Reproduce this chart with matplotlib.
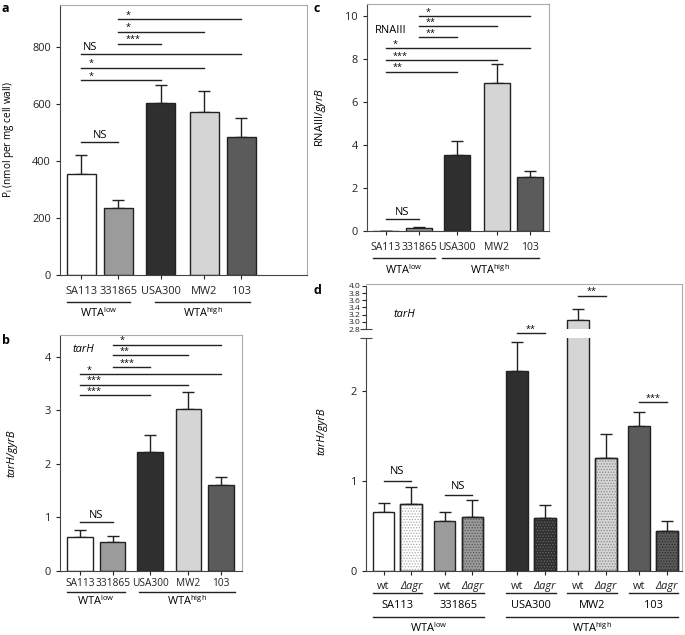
import numpy as np
import matplotlib
matplotlib.use('Agg')
import matplotlib.pyplot as plt
from matplotlib.lines import Line2D

plt.rcParams['font.family'] = ['Open Sans', 'DejaVu Sans']
plt.rcParams['mathtext.fontset'] = 'custom'
plt.rcParams['mathtext.rm'] = 'Open Sans'
plt.rcParams['mathtext.it'] = 'Open Sans:italic'
plt.rcParams['hatch.linewidth'] = 0.6

# strains and colours
strains = ['SA113', '331865', 'USA300', 'MW2', '103']
bar_colors = ['#ffffff', '#9b9b9b', '#2f2f2f', '#d5d5d5', '#5b5b5b']
dot_colors = ['#aaaaaa', '#555555', '#6a6a6a', '#8a8a8a', '#2a2a2a']

# panel a: phosphate per mg cell wall
wta_pi = [355, 235, 605, 573, 485]
wta_pi_err = [65, 27, 60, 72, 67]

# panel b: tarH/gyrB
tarh = [0.64, 0.54, 2.22, 3.03, 1.61]
tarh_err = [0.12, 0.12, 0.32, 0.32, 0.15]

# panel c: RNAIII/gyrB
rna = [0.01, 0.15, 3.55, 6.87, 2.50]
rna_err = [0.0, 0.05, 0.65, 0.90, 0.30]

# panel d: tarH/gyrB, wt vs agr mutant
tarh_wt = [0.65, 0.55, 2.22, 3.04, 1.61]
tarh_wt_err = [0.10, 0.11, 0.32, 0.32, 0.15]
tarh_agr = [0.74, 0.60, 0.59, 1.25, 0.44]
tarh_agr_err = [0.19, 0.19, 0.14, 0.27, 0.11]

# significance brackets (i, j, height, label)
sig_a = [(0, 1, 465, 'NS'), (0, 2, 684, '*'), (0, 3, 727, '*'), (0, 4, 775, 'NS'),
         (1, 2, 811, '***'), (1, 3, 853, '*'), (1, 4, 898, '*')]
sig_b = [(0, 1, 0.91, 'NS'), (0, 2, 3.28, '***'), (0, 3, 3.48, '***'), (0, 4, 3.68, '*'),
         (1, 2, 3.81, '***'), (1, 3, 4.03, '**'), (1, 4, 4.23, '*')]
sig_c = [(0, 1, 0.55, 'NS'), (0, 2, 7.40, '**'), (0, 3, 7.94, '***'), (0, 4, 8.50, '*'),
         (1, 2, 9.00, '**'), (1, 3, 9.52, '**'), (1, 4, 9.97, '*')]
sig_d = [1.00, 0.84, 2.64, 3.73, 1.88]
sig_d_labels = ['NS', 'NS', '**', '**', '***']

W, H = 685, 635
FS = 7.9
SFS = 6.5
fig = plt.figure(figsize=(W / 100, H / 100), dpi=100)


def add_ax(x0, y0, x1, y1):
    return fig.add_axes([x0 / W, 1 - y1 / H, (x1 - x0) / W, (y1 - y0) / H])


def style(ax, pad, xfs=FS):
    for s in ['left', 'bottom']:
        ax.spines[s].set_color('#444444')
    for s in ['top', 'right']:
        ax.spines[s].set_color('#aaaaaa')
    ax.tick_params(axis='y', direction='out', length=3, width=0.8, labelsize=FS, colors='#222222')
    ax.tick_params(axis='x', direction='out', length=3, width=0.8, labelsize=xfs, colors='#222222', pad=pad)


def bars(ax, x, vals, errs, colors, dots=None):
    ax.bar(x, vals, width=0.78, color=colors, edgecolor='#222222', linewidth=1, zorder=2)
    if dots is not None:
        for xi, v, dc in zip(x, vals, dots):
            ax.bar(xi, v, width=0.78, color='none', edgecolor=dc, hatch='......', linewidth=0, zorder=3)
        ax.bar(x, vals, width=0.78, color='none', edgecolor='#222222', linewidth=1, zorder=4)
    ax.errorbar(x, vals, yerr=[np.zeros(len(vals)), errs], fmt='none', ecolor='#222222',
                elinewidth=1, capsize=4, capthick=1, zorder=1)


def brackets(ax, pos, sigs, step):
    for i, j, y, lab in sigs:
        ax.plot([pos[i], pos[j]], [y, y], color='#222222', lw=1, clip_on=False)
        if lab == 'NS':
            if j - i == 1:
                ax.text((pos[i] + pos[j]) / 2, y + step * 0.3, lab, ha='center', va='bottom', fontsize=FS)
            else:
                ax.text(pos[i] + 0.05, y + step * 0.25, lab, ha='left', va='bottom', fontsize=FS)
        else:
            ax.text(pos[i] + 0.2, y - step * 0.1, lab, ha='left', va='bottom', fontsize=SFS)


def under(ax, rect, x1, x2, ypx, label=None, ytxt=None):
    ax0, ay0, ax1, ay1 = rect
    hpx = ay1 - ay0
    y = -(ypx - ay1) / hpx
    ax.plot([x1, x2], [y, y], color='#222222', lw=1, transform=ax.get_xaxis_transform(), clip_on=False)
    if label is not None:
        yt = -(ytxt - ay1) / hpx
        ax.text((x1 + x2) / 2, yt, label, ha='center', va='center', fontsize=FS,
                transform=ax.get_xaxis_transform())


pos = [0, 1, 2.15, 3.33, 4.33]

# ---- panel a
rect_a = (60, 5, 307, 275)
ax = add_ax(*rect_a)
bars(ax, pos, wta_pi, wta_pi_err, bar_colors)
brackets(ax, pos, sig_a, 20)
ax.set_xlim(-0.57, 6.1)
ax.set_ylim(0, 947)
ax.set_yticks([0, 200, 400, 600, 800])
ax.set_xticks(pos)
ax.set_xticklabels(strains)
style(ax, 5)
ax.set_ylabel(r'P$_{\rm i}$ (nmol per mg cell wall)', fontsize=7.2)
ax.yaxis.set_label_coords((16 - 60) / 247, 0.5)
under(ax, rect_a, -0.38, 1.32, 302, r'WTA$^{\rm low}$', 313)
under(ax, rect_a, 2.0, 4.57, 302, r'WTA$^{\rm high}$', 313)

# ---- panel c
rect_c = (367, 4, 549, 231)
ax = add_ax(*rect_c)
bars(ax, pos, rna, rna_err, bar_colors)
brackets(ax, pos, sig_c, 0.22)
ax.text(-0.32, 9.3, 'RNAIII', fontsize=FS, ha='left', va='center')
ax.set_xlim(-0.56, 4.9)
ax.set_ylim(0, 10.55)
ax.set_yticks([0, 2, 4, 6, 8, 10])
ax.set_xticks(pos)
ax.set_xticklabels(strains)
style(ax, 5, 7.5)
ax.set_ylabel(r'RNAIII/$\it{gyrB}$', fontsize=FS)
ax.yaxis.set_label_coords((328 - 367) / 182, 0.5)
under(ax, rect_c, -0.38, 1.48, 258, r'WTA$^{\rm low}$', 270)
under(ax, rect_c, 1.68, 4.6, 258, r'WTA$^{\rm high}$', 270)

# ---- panel b
rect_b = (60, 335, 242, 571)
ax = add_ax(*rect_b)
bars(ax, pos, tarh, tarh_err, bar_colors)
brackets(ax, pos, sig_b, 0.09)
ax.text(-0.25, 4.13, 'tarH', fontsize=FS, style='italic', ha='left', va='center')
ax.set_xlim(-0.62, 4.98)
ax.set_ylim(0, 4.41)
ax.set_yticks([0, 1, 2, 3, 4])
ax.set_xticks(pos)
ax.set_xticklabels(strains)
style(ax, 2, 7.3)
ax.set_ylabel('tarH/gyrB', fontsize=FS, style='italic')
ax.yaxis.set_label_coords((18 - 60) / 182, 0.5)
under(ax, rect_b, -0.4, 1.38, 592, r'WTA$^{\rm low}$', 601)
under(ax, rect_b, 1.82, 4.77, 592, r'WTA$^{\rm high}$', 601)

# ---- panel d (broken axis)
wt_pos = np.array([0, 2.2, 4.8, 7.0, 9.2])
agr_pos = wt_pos + 1
rect_d = (366, 338, 682, 571)
ax = add_ax(*rect_d)
axu = add_ax(366, 284, 682, 329)
axu.patch.set_visible(False)
for a_ in (ax, axu):
    bars(a_, wt_pos, tarh_wt, tarh_wt_err, bar_colors)
    bars(a_, agr_pos, tarh_agr, tarh_agr_err, bar_colors, dot_colors)
    a_.set_xlim(-0.63, 10.74)
ax.set_ylim(0, 2.585)
axu.set_ylim(2.8, 4.05)
for k in range(5):
    a_ = axu if sig_d[k] > 2.8 else ax
    a_.plot([wt_pos[k], agr_pos[k]], [sig_d[k], sig_d[k]], color='#222222', lw=1, clip_on=False)
    fs = FS if sig_d_labels[k] == 'NS' else SFS
    off = 0.04 if sig_d_labels[k] == 'NS' else -0.01
    a_.text((wt_pos[k] + agr_pos[k]) / 2, sig_d[k] + off, sig_d_labels[k], ha='center', va='bottom',
            fontsize=fs, clip_on=False)
axu.text(0.35, 3.2, 'tarH', fontsize=FS, style='italic', ha='left', va='center')

xt = np.ravel(np.column_stack([wt_pos, agr_pos]))
ax.set_xticks(xt)
ax.set_xticklabels(['wt', '\u0394agr'] * 5)
for k, t in enumerate(ax.get_xticklabels()):
    if k % 2 == 1:
        t.set_fontstyle('italic')
ax.set_yticks([0, 1, 2])
style(ax, 4)
ax.spines['top'].set_visible(False)
ax.set_ylabel('tarH/gyrB', fontsize=FS, style='italic')
ax.yaxis.set_label_coords((328 - 366) / 316, 0.6)
ax.plot([-0.63], [2.585], marker='_', ms=8, mew=0.8, color='#444444', clip_on=False)

style(axu, 3)
axu.spines['bottom'].set_visible(False)
axu.set_xticks([])
axu.set_yticks(np.arange(2.8, 4.01, 0.2))
axu.set_yticklabels(['2.8', '3.0', '3.2', '3.4', '3.6', '3.8', '4.0'])
axu.tick_params(axis='y', labelsize=6, pad=1)
axu.spines['left'].set_bounds(2.8, 4.0)
axu.plot([-0.63], [2.8], marker='_', ms=8, mew=0.8, color='#444444', clip_on=False)
fig.add_artist(Line2D([682 / W, 682 / W], [1 - 329 / H, 1 - 338 / H], color='#aaaaaa', lw=0.8))

for k in range(5):
    under(ax, rect_d, wt_pos[k] - 0.38, agr_pos[k] + 0.4, 593, strains[k], 605)
under(ax, rect_d, -0.38, 3.62, 617, r'WTA$^{\rm low}$', 628)
under(ax, rect_d, 4.41, 10.6, 617, r'WTA$^{\rm high}$', 628)

# panel letters
for lab, x, y in [('a', 2, 8), ('b', 2, 340), ('c', 313, 8), ('d', 313, 290)]:
    fig.text(x / W, 1 - y / H, lab, fontsize=9, fontweight='bold', ha='left', va='center')

fig.savefig('out.png', dpi=100)
